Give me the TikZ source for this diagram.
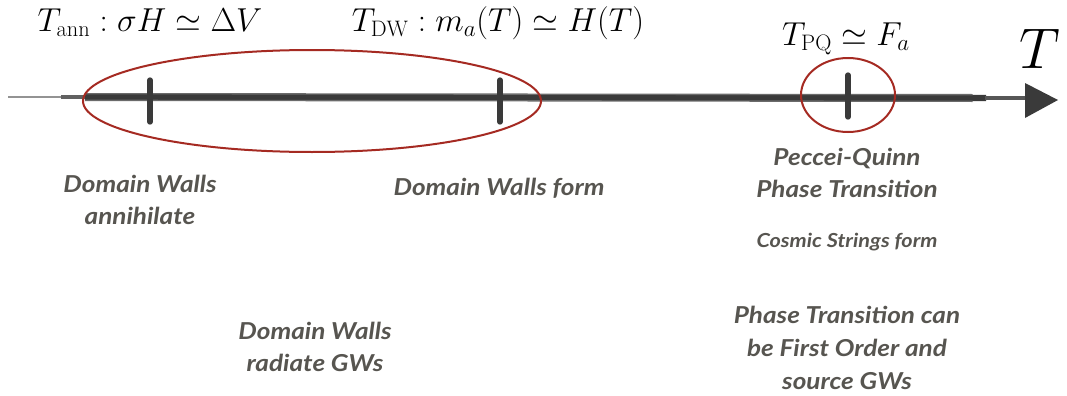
\documentclass[tikz,border=0pt]{standalone}
\usepackage{fontspec}
\setsansfont{Lato}[FakeStretch=1.12]
\usetikzlibrary{shapes.geometric}
\definecolor{axisgray}{HTML}{3A3A3A}
\definecolor{txtgray}{HTML}{575550}
\definecolor{ringred}{HTML}{A52A22}
\tikzset{
  lbl/.style={font=\sffamily\bfseries\itshape\fontsize{17.5}{24.5}\selectfont, text=txtgray, align=center, inner sep=0pt},
  smalllbl/.style={font=\sffamily\bfseries\itshape\fontsize{14.5}{18}\selectfont, text=txtgray, align=center, inner sep=0pt},
  mathlbl/.style={font=\fontsize{24}{28}\selectfont, inner sep=0pt},
  ring/.style={ellipse, draw=ringred, line width=1.5pt, inner sep=0pt},
  tickmark/.style={draw=axisgray, line width=4pt, line cap=round},
}
\begin{document}
\begin{tikzpicture}[x=0.75pt,y=-0.75pt]
\useasboundingbox (0,0) rectangle (1067,396);
% axis (sketchy)
\coordinate (a0) at (8,97);
\coordinate (a1) at (85,97);
\coordinate (a2) at (1026,98);
\coordinate (tip) at (1058,100);
\draw[axisgray!55, line width=1pt] (a0) -- (a1);
\draw[axisgray!80, line width=2.5pt] ([xshift=40]a0) -- (a1);
\draw[axisgray, line width=4.8pt] (a1) -- ([xshift=-30]a2);
\draw[axisgray!75, line width=1pt] ([yshift=-2.5]a1) -- ([xshift=-40,yshift=-2.5]a2);
\draw[axisgray!75, line width=1pt] ([yshift=2.5]a1) -- ([xshift=-40,yshift=2.5]a2);
\draw[axisgray!85, line width=3pt] ([xshift=-31]a2) -- (a2);
\fill[axisgray] (1025,83) -- (tip) -- (1025,118) -- cycle;
% tick marks
\draw[tickmark] (150,80) -- (150,122);
\draw[tickmark] (500,80) -- (500,122);
\draw[tickmark] (848,75) -- (848,117);
% rings
\node[ring, minimum width=458*0.75pt, minimum height=102*0.75pt] (r1) at (312,101) {};
\node[ring, minimum width=94*0.75pt, minimum height=74*0.75pt] (r2) at (848,95) {};
% math labels
\node[mathlbl] (tann) at (150,23) {$T_{\rm ann}:\sigma H\simeq\Delta V$};
\node[mathlbl] (tdw) at (498,23) {$T_{\rm DW}:m_a(T)\simeq H(T)$};
\node[mathlbl] (tpq) at (846,39) {$T_{\rm PQ}\simeq F_a$};
\node[mathlbl, scale=1.73] (tT) at (1040,49) {$T$};
% text labels
\node[lbl] (dwann) at (140,200) {Domain Walls\\annihilate};
\node[lbl] (dwform) at (499,188) {Domain Walls form};
\node[lbl] (pq) at (847,173) {Peccei-Quinn\\Phase Transition};
\node[smalllbl] (cs) at (847,242) {Cosmic Strings form};
\node[lbl] (dwrad) at (315,347) {Domain Walls\\radiate GWs};
\node[lbl] (foPT) at (847,348) {Phase Transition can\\be First Order and\\source GWs};
\end{tikzpicture}
\end{document}
